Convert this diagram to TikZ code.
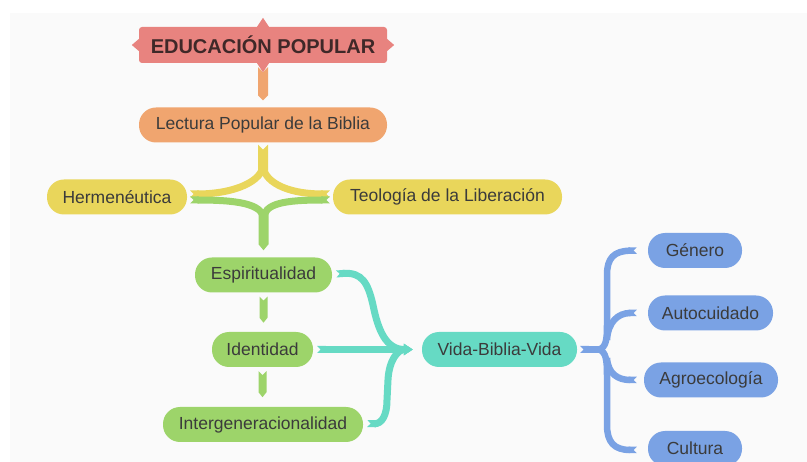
\documentclass[tikz,border=0pt]{standalone}
\usepackage{fontspec}
\setmainfont{Liberation Sans}
\usetikzlibrary{arrows.meta, calc}
\definecolor{bgcol}{HTML}{FAFAFA}
\definecolor{redc}{HTML}{E8837F}
\definecolor{orangec}{HTML}{F0A56F}
\definecolor{yellowc}{HTML}{E9D65B}
\definecolor{greenc}{HTML}{9DD46A}
\definecolor{tealc}{HTML}{66DAC4}
\definecolor{bluec}{HTML}{7AA2E4}
\definecolor{txt}{HTML}{3B3B3B}
\definecolor{titletxt}{HTML}{3F2828}

\begin{document}
\begin{tikzpicture}[x = 1pt, y = -1pt,
    topic/.style = {rounded corners = 17pt, minimum height = 35pt, inner sep = 0pt, text = txt, font = \fontsize{17.5}{20}\selectfont},
    merge/.style = {line width = 7pt, {Triangle Cap[reversed]}-{Triangle[length = 9pt, width = 11pt]}}]
    \fill[white] (0,0) rectangle (807,462);
    \fill[bgcol] (10,13) rectangle (807,462);
    \useasboundingbox (0,0) rectangle (807,462);
    \node[fill = redc, rounded corners = 3pt, minimum width = 248pt, minimum height = 36pt, inner sep = 0pt, text = titletxt, font = \bfseries\fontsize{20}{24}\selectfont] (title) at (263,45) {EDUCACIÓN POPULAR};
    \node[topic, fill = orangec, minimum width = 248pt] (lectura) at (263,125) {Lectura Popular de la Biblia};
    \node[topic, fill = yellowc, minimum width = 140pt] (herm) at (117,197) {Hermenéutica};
    \node[topic, fill = yellowc, minimum width = 229pt] (teologia) at (447.5,197) {Teología de la Liberación};
    \node[topic, fill = greenc, minimum width = 137pt] (espiritu) at (263.5,275) {Espiritualidad};
    \node[topic, fill = greenc, minimum width = 101pt] (identidad) at (262.5,349.5) {Identidad};
    \node[topic, fill = greenc, minimum width = 200pt] (intergen) at (263,424.5) {Intergeneracionalidad};
    \node[topic, fill = tealc, minimum width = 155pt] (vida) at (499.5,349.5) {Vida-Biblia-Vida};
    \node[topic, fill = bluec, minimum width = 94pt] (genero) at (695,250.5) {Género};
    \node[topic, fill = bluec, minimum width = 125pt] (autocuidado) at (710.5,313) {Autocuidado};
    \node[topic, fill = bluec, minimum width = 134pt] (agro) at (711,380) {Agroecología};
    \node[topic, fill = bluec, minimum width = 94pt] (cultura) at (695,448.5) {Cultura};
    \fill[orangec] ($(title.south)+(-5,4)$) -- ($(title.south)+(0,9)$) -- ($(title.south)+(5,4)$) -- ($(lectura.north)+(5,-12)$) -- ($(lectura.north)+(0,-7)$) -- ($(lectura.north)+(-5,-12)$) -- cycle;
    \fill[redc] ($(title.north)+(-6,0)$) -- ($(title.north)+(0,-9)$) -- ($(title.north)+(6,0)$) -- cycle;
    \fill[redc] ($(title.south)+(-6,0)$) -- ($(title.south)+(0,9)$) -- ($(title.south)+(6,0)$) -- cycle;
    \fill[redc] ($(title.west)+(0,-6)$) -- ($(title.west)+(-7,0)$) -- ($(title.west)+(0,6)$) -- cycle;
    \fill[redc] ($(title.east)+(0,-6)$) -- ($(title.east)+(7,0)$) -- ($(title.east)+(0,6)$) -- cycle;
    \fill[yellowc] ($(lectura.south)+(-5,2)$) -- ($(lectura.south)+(0,7)$) -- ($(lectura.south)+(5,2)$) -- ($(lectura.south)+(5,28)$) -- ($(lectura.south)+(-5,28)$) -- cycle;
    \draw[yellowc, line width = 7pt, -{Triangle Cap[reversed]}] ($(lectura.south)+(0,22)$) .. controls +(0,16) and +(45,0) .. ($(herm.east)+(3,-3)$);
    \draw[yellowc, line width = 7pt, -{Triangle Cap[reversed]}] ($(lectura.south)+(0,22)$) .. controls +(0,16) and +(-45,0) .. ($(teologia.west)+(-3,-3)$);
    \draw[greenc, line width = 7pt, {Triangle Cap[reversed]}-] ($(herm.east)+(3,3)$) .. controls +(45,0) and +(0,-16) .. ($(espiritu.north)+(0,-38)$);
    \draw[greenc, line width = 7pt, {Triangle Cap[reversed]}-] ($(teologia.west)+(-3,3)$) .. controls +(-45,0) and +(0,-16) .. ($(espiritu.north)+(0,-38)$);
    \fill[greenc] ($(espiritu.north)+(-5,-44)$) -- ($(espiritu.north)+(5,-44)$) -- ($(espiritu.north)+(5,-13)$) -- ($(espiritu.north)+(0,-7)$) -- ($(espiritu.north)+(-5,-13)$) -- cycle;
    \foreach \a in {espiritu, identidad} {
        \fill[greenc] ($(\a.south)+(-4,4)$) -- ++(4,4) -- ++(4,-4) -- ++(0,21) -- ++(-4,5) -- ++(-4,-5) -- cycle;
    }
    \coordinate (tjoin) at ($(vida.west)+(-9,0)$);
    \draw[tealc, merge] ($(espiritu.east)+(4,-1)$) .. controls (362,272) and (368,283) .. (373,305) .. controls (378,330) and (386,349.5) .. (tjoin);
    \draw[tealc, merge] ($(identidad.east)+(4,0)$) -- (tjoin);
    \draw[tealc, merge] ($(intergen.east)+(4,-1)$) .. controls (382,424) and (387,415) .. (387,400) -- (388,380) .. controls (389,360) and (398,349.5) .. (tjoin);
    \coordinate (bjoin) at ($(vida.east)+(22,0)$);
    \draw[bluec, line width = 7pt, {Triangle Cap[reversed]}-] ($(vida.east)+(3,0)$) -- (bjoin);
    \draw[bluec, line width = 6.5pt, -{Triangle Cap[reversed]}] (bjoin) .. controls (606,347) and (607,340) .. (607,325) -- (607,275) .. controls (607,258) and (614,251) .. ($(genero.west)+(-11,0)$);
    \draw[bluec, line width = 6.5pt, -{Triangle Cap[reversed]}] (607,340) .. controls (608,322) and (618,313) .. ($(autocuidado.west)+(-11,0)$);
    \draw[bluec, line width = 6.5pt, -{Triangle Cap[reversed]}] (607,358) .. controls (608,374) and (618,380) .. ($(agro.west)+(-7,0)$);
    \draw[bluec, line width = 6.5pt, -{Triangle Cap[reversed]}] (bjoin) .. controls (606,352) and (607,360) .. (607,375) -- (607,425) .. controls (607,442) and (614,450) .. ($(cultura.west)+(-11,1.5)$);
\end{tikzpicture}
\end{document}
